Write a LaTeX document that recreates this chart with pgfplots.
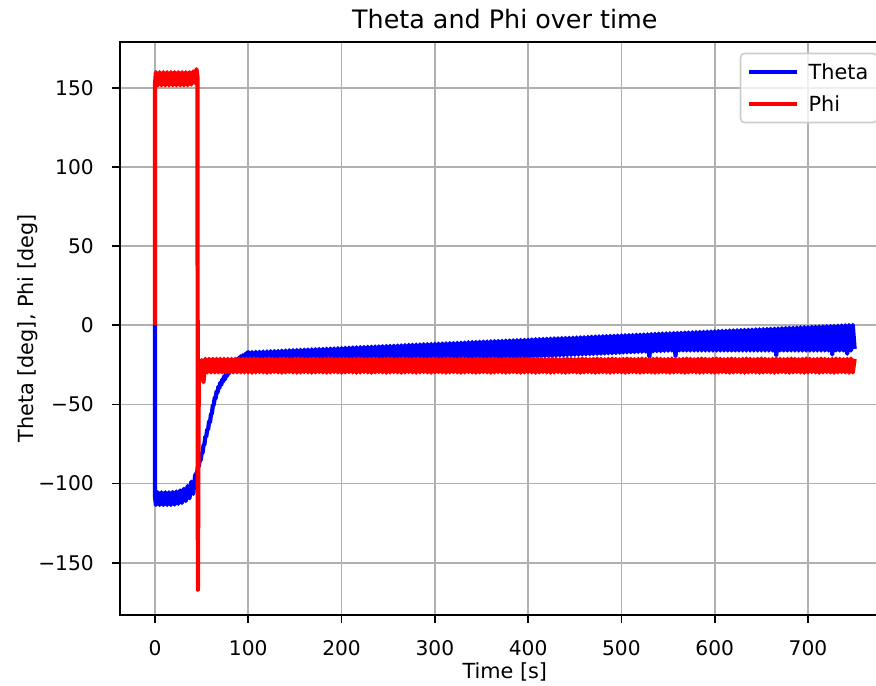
\documentclass[border=0pt]{standalone}
\usepackage{fontspec}
\setmainfont{DejaVu Sans}
\usepackage{pgfplots}
\usepackage{pgfplotstable}
\pgfplotsset{compat=1.18}
\definecolor{gridgray}{HTML}{B0B0B0}
\definecolor{legendedge}{HTML}{CCCCCC}

% t [s], theta [deg], phi [deg]; nan = no sample for that series
\pgfplotstableread{
t theta phi
0 0 0
0 -108 152
1 -113.5 159.8
3 -105.5 151.5
5 -113.5 159.8
7 -105.5 151.5
9 -113.5 159.8
11 -105.5 151.5
13 -113.5 159.8
15 -105.5 151.5
17 -113.5 159.8
19 -105.3 151.5
21 -113.3 159.8
23 -105.0 151.5
25 -112.8 159.8
27 -104.3 151.5
29 -112.2 159.8
31 -103.3 151.5
33 -111.0 159.8
35 -101.5 151.5
37 -109.3 159.8
39 -98.8 152.0
41 -106.5 160.3
43 -95.0 153.0
44 -93.8 nan
44.5 nan 161.7
45 -94.2 nan
45.5 nan 157.0
46 -89.3 -167.0
47 -89.2 -24.0
48 -84.8 -30.0
49 -85.2 nan
50 -80.8 -22.0
51 -80.7 nan
52 -75.8 -36.0
53 -75.2 nan
54 -70.3 -21.2
55 -70.2 nan
56 -65.8 -29.8
57 -65.7 nan
58 -60.8 -21.2
59 -61.2 nan
60 -56.3 -29.8
61 -55.7 nan
62 -50.8 -21.2
63 -50.2 nan
64 -45.8 -29.8
65 -46.2 nan
66 -41.8 -21.2
67 -42.7 nan
68 -38.8 -29.8
69 -39.7 nan
70 -36.3 -21.2
71 -37.7 nan
72 -34.3 -29.8
73 -35.7 nan
74 -32.3 -21.2
75 -34.2 nan
76 -30.8 -29.8
77 -32.2 nan
78 -29.3 -21.2
79 -30.7 nan
80 -27.8 -29.8
81 -29.2 nan
82 -25.8 -21.2
83 -27.2 nan
84 -23.8 -29.8
85 -28.5 nan
86 -22.5 -21.2
87 -28.0 nan
88 -21.5 -29.8
89 -28.0 nan
90 -20.5 -21.2
91 -28.0 nan
92 -19.5 -29.8
93 -28.0 nan
94 -19.0 -21.2
95 -28.0 nan
96 -18.5 -29.8
97 -28.0 nan
98 -18.0 -21.2
100 -17.0 -29.8
102 -27.9 -21.2
104 -16.9 -30.0
106 -27.8 -21.0
108 -16.8 -29.8
110 -27.7 -21.2
112 -16.7 -29.6
114 -27.6 -21.4
116 -16.6 -29.8
118 -27.5 -21.2
120 -16.5 -30.0
122 -27.4 -21.0
124 -16.4 -29.8
126 -27.3 -21.2
128 -16.3 -29.6
130 -27.2 -21.4
132 -16.2 -29.8
134 -27.1 -21.2
136 -16.0 -30.0
138 -27.0 -21.0
140 -15.9 -29.8
142 -26.9 -21.2
144 -15.8 -29.6
146 -26.8 -21.4
148 -15.7 -29.8
150 -26.7 -21.2
152 -15.6 -30.0
154 -26.6 -21.0
156 -15.5 -29.8
158 -26.5 -21.2
160 -15.4 -29.6
162 -26.4 -21.4
164 -15.3 -29.8
166 -26.3 -21.2
168 -15.2 -30.0
170 -26.1 -21.0
172 -15.1 -29.8
174 -26.0 -21.2
176 -15.0 -29.6
178 -25.9 -21.4
180 -14.9 -29.8
182 -25.8 -21.2
184 -14.8 -30.0
186 -25.7 -21.0
188 -14.7 -29.8
190 -25.6 -21.2
192 -14.6 -29.6
194 -25.5 -21.4
196 -14.5 -29.8
198 -25.4 -21.2
200 -14.4 -30.0
202 -25.3 -21.0
204 -14.2 -29.8
206 -25.2 -21.2
208 -14.1 -29.6
210 -25.1 -21.4
212 -14.0 -29.8
214 -25.0 -21.2
216 -13.9 -30.0
218 -24.9 -21.0
220 -13.8 -29.8
222 -24.8 -21.2
224 -13.7 -29.6
226 -24.7 -21.4
228 -13.6 -29.8
230 -24.6 -21.2
232 -13.5 -30.0
234 -24.4 -21.0
236 -13.4 -29.8
238 -24.3 -21.2
240 -13.3 -29.6
242 -24.2 -21.4
244 -13.2 -29.8
246 -24.1 -21.2
248 -13.1 -30.0
250 -24.0 -21.0
252 -13.0 -29.8
254 -23.9 -21.2
256 -12.9 -29.6
258 -23.8 -21.4
260 -12.8 -29.8
262 -23.7 -21.2
264 -12.7 -30.0
266 -23.6 -21.0
268 -12.5 -29.8
270 -23.5 -21.2
272 -12.4 -29.6
274 -23.4 -21.4
276 -12.3 -29.8
278 -23.3 -21.2
280 -12.2 -30.0
282 -23.2 -21.0
284 -12.1 -29.8
286 -23.1 -21.2
288 -12.0 -29.6
290 -23.0 -21.4
292 -11.9 -29.8
294 -22.9 -21.2
296 -11.8 -30.0
298 -22.8 -21.0
300 -11.7 -29.8
302 -22.6 -21.2
304 -11.6 -29.6
306 -22.5 -21.4
308 -11.5 -29.8
310 -22.4 -21.2
312 -11.4 -30.0
314 -22.3 -21.0
316 -11.3 -29.8
318 -22.2 -21.2
320 -11.2 -29.6
322 -22.1 -21.4
324 -11.1 -29.8
326 -22.0 -21.2
328 -11.0 -30.0
330 -21.9 -21.0
332 -10.9 -29.8
334 -21.8 -21.2
336 -10.7 -29.6
338 -21.7 -21.4
340 -10.6 -29.8
342 -21.6 -21.2
344 -10.5 -30.0
346 -21.5 -21.0
348 -10.4 -29.8
350 -21.4 -21.2
352 -10.3 -29.6
354 -21.3 -21.4
356 -10.2 -29.8
358 -21.2 -21.2
360 -10.1 -30.0
362 -21.1 -21.0
364 -10.0 -29.8
366 -20.9 -21.2
368 -9.9 -29.6
370 -20.8 -21.4
372 -9.8 -29.8
374 -20.7 -21.2
376 -9.7 -30.0
378 -20.6 -21.0
380 -9.6 -29.8
382 -20.5 -21.2
384 -9.5 -29.6
386 -20.4 -21.4
388 -9.4 -29.8
390 -20.3 -21.2
392 -9.3 -30.0
394 -20.2 -21.0
396 -9.2 -29.8
398 -20.1 -21.2
400 -9.1 -29.6
402 -20.0 -21.4
404 -8.9 -29.8
406 -19.9 -21.2
408 -8.8 -30.0
410 -19.8 -21.0
412 -8.7 -29.8
414 -19.7 -21.2
416 -8.6 -29.6
418 -19.6 -21.4
420 -8.5 -29.8
422 -19.5 -21.2
424 -8.4 -30.0
426 -19.4 -21.0
428 -8.3 -29.8
430 -19.3 -21.2
432 -8.2 -29.6
434 -19.1 -21.4
436 -8.1 -29.8
438 -19.0 -21.2
440 -8.0 -30.0
442 -18.9 -21.0
444 -7.9 -29.8
446 -18.8 -21.2
448 -7.8 -29.6
450 -18.7 -21.4
452 -7.7 -29.8
454 -18.6 -21.2
456 -7.6 -30.0
458 -18.5 -21.0
460 -7.5 -29.8
462 -18.4 -21.2
464 -7.4 -29.6
466 -18.3 -21.4
468 -7.2 -29.8
470 -18.2 -21.2
472 -7.1 -30.0
474 -18.1 -21.0
476 -7.0 -29.8
478 -18.0 -21.2
480 -6.9 -29.6
482 -17.9 -21.4
484 -6.8 -29.8
486 -17.8 -21.2
488 -6.7 -30.0
490 -17.7 -21.0
492 -6.6 -29.8
494 -17.6 -21.2
496 -6.5 -29.6
498 -17.4 -21.4
500 -6.4 -29.8
502 -17.3 -21.2
504 -6.3 -30.0
506 -17.2 -21.0
508 -6.2 -29.8
510 -17.1 -21.2
512 -6.1 -29.6
514 -17.0 -21.4
516 -6.0 -29.8
518 -16.9 -21.2
520 -5.9 -30.0
522 -16.8 -21.0
524 -5.8 -29.8
526 -16.7 -21.2
528 -5.7 -29.6
530 -20.0 -21.4
532 -5.5 -29.8
534 -16.5 -21.2
536 -5.4 -30.0
538 -16.4 -21.0
540 -5.3 -29.8
542 -16.3 -21.2
544 -5.2 -29.6
546 -16.2 -21.4
548 -5.1 -29.8
550 -16.1 -21.2
552 -5.0 -30.0
554 -16.0 -21.0
556 -4.9 -29.8
558 -19.5 -21.2
560 -4.8 -29.6
562 -16.0 -21.4
564 -4.7 -29.8
566 -16.0 -21.2
568 -4.6 -30.0
570 -16.0 -21.0
572 -4.5 -29.8
574 -16.0 -21.2
576 -4.4 -29.6
578 -16.0 -21.4
580 -4.3 -29.8
582 -16.0 -21.2
584 -4.2 -30.0
586 -16.0 -21.0
588 -4.1 -29.8
590 -16.0 -21.2
592 -4.0 -29.6
594 -16.0 -21.4
596 -3.9 -29.8
598 -16.0 -21.2
600 -3.8 -30.0
602 -16.0 -21.0
604 -3.6 -29.8
606 -16.0 -21.2
608 -3.5 -29.6
610 -16.0 -21.4
612 -3.4 -29.8
614 -16.0 -21.2
616 -3.3 -30.0
618 -16.0 -21.0
620 -3.2 -29.8
622 -16.0 -21.2
624 -3.1 -29.6
626 -16.0 -21.4
628 -3.0 -29.8
630 -16.0 -21.2
632 -2.9 -30.0
634 -16.0 -21.0
636 -2.8 -29.8
638 -16.0 -21.2
640 -2.7 -29.6
642 -16.0 -21.4
644 -2.6 -29.8
646 -16.0 -21.2
648 -2.5 -30.0
650 -16.0 -21.0
652 -2.4 -29.8
654 -16.0 -21.2
656 -2.3 -29.6
658 -16.0 -21.4
660 -2.2 -29.8
662 -16.0 -21.2
664 -2.1 -30.0
666 -19.0 -21.0
668 -2.0 -29.8
670 -16.0 -21.2
672 -1.8 -29.6
674 -16.0 -21.4
676 -1.7 -29.8
678 -16.0 -21.2
680 -1.6 -30.0
682 -16.0 -21.0
684 -1.5 -29.8
686 -16.0 -21.2
688 -1.4 -29.6
690 -16.0 -21.4
692 -1.3 -29.8
694 -16.0 -21.2
696 -1.2 -30.0
698 -16.0 -21.0
700 -1.1 -29.8
702 -16.0 -21.2
704 -1.0 -29.6
706 -16.0 -21.4
708 -0.9 -29.8
710 -16.0 -21.2
712 -0.8 -30.0
714 -16.0 -21.0
716 -0.7 -29.8
718 -16.0 -21.2
720 -0.6 -29.6
722 -16.0 -21.4
724 -0.5 -29.8
726 -18.5 -21.2
728 -0.4 -30.0
730 -16.0 -21.0
732 -0.3 -29.8
734 -16.0 -21.2
736 -0.1 -29.6
738 -16.0 -21.4
740 0.0 -29.8
742 -18.0 -21.2
744 0.1 -30.0
746 -16.0 -21.0
748 0.2 -29.8
750 -15.0 -21.2
}\angles

\begin{document}
\begin{tikzpicture}
\begin{axis}[
    at={(0pt,0pt)}, anchor=south west,
    scale only axis,
    width=384.8pt, height=286.6pt,
    xmin=-37.5, xmax=787.5,
    ymin=-183, ymax=179,
    xtick={0,100,200,300,400,500,600,700},
    xticklabels={0,100,200,300,400,500,600,700},
    ytick={-150,-100,-50,0,50,100,150},
    yticklabels={−150,−100,−50,0,50,100,150},
    tick pos=left,
    tick align=outside,
    major tick length=3.75pt,
    tick style={black, line width=0.86pt},
    axis line style={black, line width=0.86pt},
    grid=major,
    major grid style={gridgray, line width=0.8pt},
    xticklabel style={font=\fontsize{10.1}{12}\selectfont, anchor=base, inner sep=0pt, yshift=-16.25pt},
    yticklabel style={font=\fontsize{10.1}{12}\selectfont, anchor=east, inner sep=0pt, xshift=-9.15pt},
    title={Theta and Phi over time},
    every axis title/.style={at={(axis description cs:0.5,1.0239)}, anchor=base,
        font=\fontsize{12.7}{15}\selectfont},
    xlabel={Time [s]},
    every axis x label/.style={at={(axis description cs:0.5,-0.1115)}, anchor=base,
        font=\fontsize{10.4}{12}\selectfont},
    ylabel={Theta [deg], Phi [deg]},
    every axis y label/.style={at={(axis description cs:-0.1130,0.5)}, anchor=base,
        rotate=90, font=\fontsize{10.4}{12}\selectfont},
    legend cell align=left,
    legend image code/.code={\draw[#1] (0pt,0pt) -- (24pt,0pt);},
    legend style={
        at={(axis description cs:0.985,0.981)}, anchor=north east,
        draw=legendedge, line width=0.8pt, rounded corners=2pt,
        fill=white, fill opacity=0.8, text opacity=1,
        font=\fontsize{10.4}{12}\selectfont,
        inner xsep=3pt, inner ysep=3.5pt, row sep=4.5pt,
        nodes={inner sep=1.5pt, text height=8pt, text depth=0.5pt},
        /tikz/every odd column/.append style={column sep=3.5pt}
    },
]
\addplot[blue, line width=2.1pt, line join=round] table[x=t, y=theta] {\angles};
\addplot[red, line width=2.1pt, line join=round] table[x=t, y=phi] {\angles};
\legend{Theta, Phi}
\end{axis}
% the reference is cropped: its right spine and part of the legend fall outside
\pgfresetboundingbox
\path[use as bounding box] (-60pt,-35pt) rectangle (378pt,307.5pt);
\end{tikzpicture}
\end{document}
